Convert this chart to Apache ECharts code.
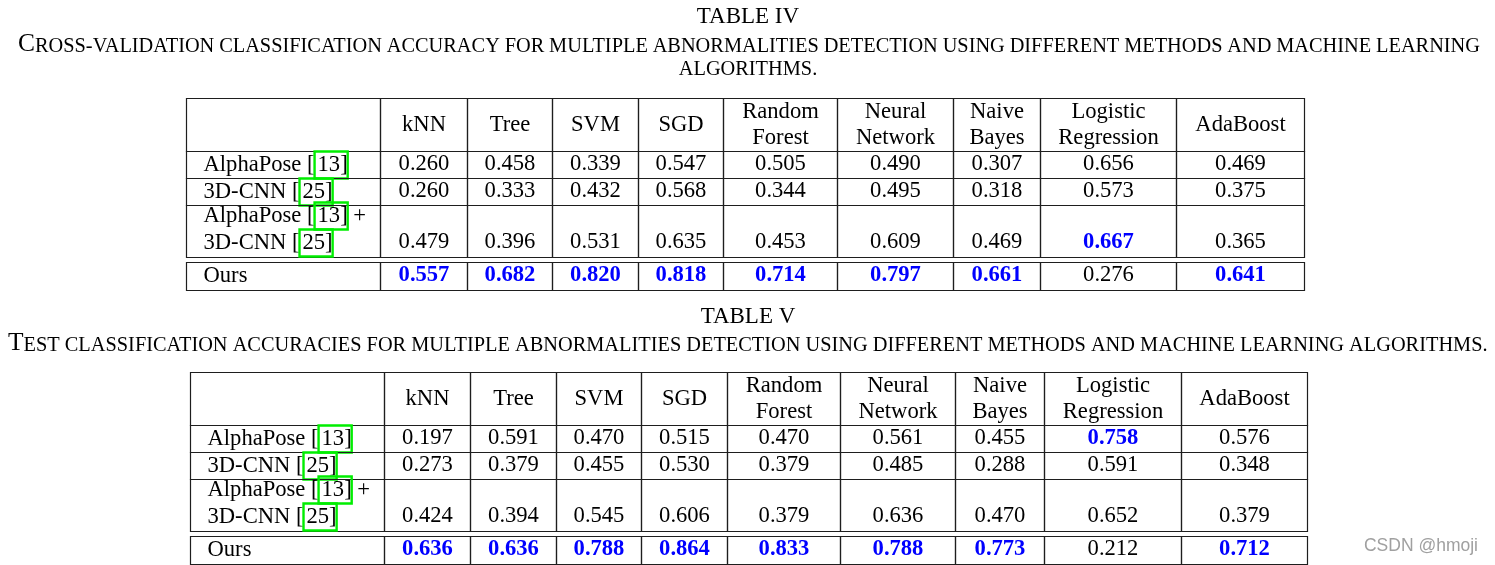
<!DOCTYPE html>
<html><head><meta charset="utf-8">
<script src="https://cdn.jsdelivr.net/npm/echarts@6/dist/echarts.min.js"></script>
<style>html,body{margin:0;padding:0;background:#fff}#c{width:1495px;height:565px}</style>
</head><body><div id="c"></div>
<script>
// ---------------- data ----------------
const methods = ['kNN', 'Tree', 'SVM', 'SGD', 'Random\nForest', 'Neural\nNetwork', 'Naive\nBayes', 'Logistic\nRegression', 'AdaBoost'];
const rowLabels = ['AlphaPose [13]', '3D-CNN [25]', 'AlphaPose [13] +\n3D-CNN [25]', 'Ours'];

const cvAlphaPose = [0.260, 0.458, 0.339, 0.547, 0.505, 0.490, 0.307, 0.656, 0.469];
const cv3DCNN     = [0.260, 0.333, 0.432, 0.568, 0.344, 0.495, 0.318, 0.573, 0.375];
const cvCombined  = [0.479, 0.396, 0.531, 0.635, 0.453, 0.609, 0.469, 0.667, 0.365];
const cvOurs      = [0.557, 0.682, 0.820, 0.818, 0.714, 0.797, 0.661, 0.276, 0.641];

const testAlphaPose = [0.197, 0.591, 0.470, 0.515, 0.470, 0.561, 0.455, 0.758, 0.576];
const test3DCNN     = [0.273, 0.379, 0.455, 0.530, 0.379, 0.485, 0.288, 0.591, 0.348];
const testCombined  = [0.424, 0.394, 0.545, 0.606, 0.379, 0.636, 0.470, 0.652, 0.379];
const testOurs      = [0.636, 0.636, 0.788, 0.864, 0.833, 0.788, 0.773, 0.212, 0.712];

const titleIV = 'TABLE IV';
const captionIV = 'CROSS-VALIDATION CLASSIFICATION ACCURACY FOR MULTIPLE ABNORMALITIES DETECTION USING DIFFERENT METHODS AND MACHINE LEARNING';
const captionIV2 = 'ALGORITHMS.';
const titleV = 'TABLE V';
const captionV = 'TEST CLASSIFICATION ACCURACIES FOR MULTIPLE ABNORMALITIES DETECTION USING DIFFERENT METHODS AND MACHINE LEARNING ALGORITHMS.';
const watermark = 'CSDN @hmoji';

// ---------------- layout ----------------
const colWidthsIV = [194, 87, 85, 86, 85, 114, 116, 87, 136, 128];
const colWidthsV  = [194, 86, 86, 85, 86, 113, 115, 89, 137, 126];
const rowHeights  = [53, 27, 27, 52, 5, 28]; // header, r1, r2, r3, gap, ours
const FONT = '"Liberation Serif", "Times New Roman", serif';
const FS = 22.6;

function cum(a) { const r = [0]; a.forEach(v => r.push(r[r.length - 1] + v)); return r; }
function sum(a) { return a.reduce((s, v) => s + v, 0); }
function refRich(s) { return s.replace(/\[(\d+)\]/g, '[{ref|$1]}'); }

function buildCells(colWidths, rows) {
  const xs = cum(colWidths), ys = cum(rowHeights);
  const cells = [];
  cells.push({ value: [xs[0], xs[1], ys[0], ys[1]], text: '', kind: 'corner' });
  methods.forEach((m, i) => cells.push({ value: [xs[i + 1], xs[i + 2], ys[0], ys[1]], text: m, kind: 'head' }));
  const rowIdx = [1, 2, 3, 5];
  const colMax = methods.map((_, c) => Math.max(...rows.map(r => r[c])));
  rows.forEach((vals, k) => {
    const ri = rowIdx[k];
    const two = rowLabels[k].indexOf('\n') >= 0;
    cells.push({ value: [xs[0], xs[1], ys[ri], ys[ri + 1]], text: refRich(rowLabels[k]), kind: 'label', two });
    vals.forEach((v, c) => cells.push({
      value: [xs[c + 1], xs[c + 2], ys[ri], ys[ri + 1]],
      text: v.toFixed(3), kind: 'num', two, bold: v === colMax[c]
    }));
  });
  return cells;
}

function makeRender(cells) {
  return function (params, api) {
    const cell = cells[params.dataIndex];
    const p0 = api.coord([api.value(0), api.value(2)]);
    const p1 = api.coord([api.value(1), api.value(3)]);
    const x0 = Math.round(p0[0]) + 0.5, y0 = Math.round(p0[1]) + 0.5;
    const x1 = Math.round(p1[0]) + 0.5, y1 = Math.round(p1[1]) + 0.5;
    const children = [{
      type: 'rect',
      shape: { x: x0, y: y0, width: x1 - x0, height: y1 - y0 },
      style: { fill: 'none', stroke: '#1e1e1e', lineWidth: 1.2 }
    }];
    if (cell.text) {
      let tx, ty, align = 'center';
      if (cell.kind === 'label') { tx = x0 + 17; align = 'left'; ty = (y0 + y1) / 2 - (cell.two ? 2 : 0); }
      else if (cell.kind === 'num' && cell.two) { tx = (x0 + x1) / 2; ty = y1 - 15; }
      else { tx = (x0 + x1) / 2; ty = (y0 + y1) / 2 - (cell.kind === 'num' ? 1 : 0); }
      children.push({
        type: 'text',
        style: {
          text: cell.text, x: tx, y: ty, align, verticalAlign: 'middle',
          fill: cell.bold ? '#0000ff' : '#000',
          font: (cell.bold ? 'bold ' : '') + FS + 'px ' + FONT,
          lineHeight: 26,
          rich: {
            ref: { fontSize: FS, fontFamily: FONT, fill: '#000', borderColor: '#00ee00', borderWidth: 2.4,
                   height: 25, padding: [1, 0, 1, 3], lineHeight: 27 }
          }
        }
      });
    }
    return { type: 'group', children };
  };
}

const cellsIV = buildCells(colWidthsIV, [cvAlphaPose, cv3DCNN, cvCombined, cvOurs]);
const cellsV = buildCells(colWidthsV, [testAlphaPose, test3DCNN, testCombined, testOurs]);

// -------- caption small caps with justification --------
const cvs = document.createElement('canvas').getContext('2d');
function tw(t, size) { cvs.font = size + 'px ' + FONT; return cvs.measureText(t).width; }
let BIG = 22, SM = 17.6;
function wordWidth(w, first) { return first ? tw(w[0], BIG) + tw(w.slice(1), SM) : tw(w, SM); }
function naturalWidth(text) {
  const ws = text.split(' ');
  return ws.reduce((s, w, i) => s + wordWidth(w, i === 0), 0) + (ws.length - 1) * tw(' ', SM);
}
const kfit = 1480 / naturalWidth(captionV);
BIG *= kfit; SM *= kfit;
function capRich(text) {
  const ws = text.split(' ');
  return ws.map((w, i) => (i === 0 ? '{big|' + w[0] + '}{sm|' + w.slice(1) + '}' : '{sm|' + w + '}')).join('{sp| }');
}
function capGap(text, target) {
  const ws = text.split(' ');
  const wsum = ws.reduce((s, w, i) => s + wordWidth(w, i === 0), 0);
  return (target - wsum) / (ws.length - 1);
}
function richFor(gap) {
  return {
    big: { fontSize: BIG, fontFamily: FONT, fill: '#000', verticalAlign: 'bottom' },
    sm: { fontSize: SM, fontFamily: FONT, fill: '#000', verticalAlign: 'bottom' },
    sp: { fontSize: SM, fontFamily: FONT, width: gap, verticalAlign: 'bottom' }
  };
}

const chart = echarts.init(document.getElementById('c'), null, { renderer: 'canvas' });
chart.setOption({
  backgroundColor: '#fff',
  animation: false,
  grid: [
    { left: 186, top: 98, width: sum(colWidthsIV), height: sum(rowHeights) },
    { left: 190, top: 372, width: sum(colWidthsV), height: sum(rowHeights) }
  ],
  xAxis: [
    { type: 'value', gridIndex: 0, min: 0, max: sum(colWidthsIV), show: false },
    { type: 'value', gridIndex: 1, min: 0, max: sum(colWidthsV), show: false }
  ],
  yAxis: [
    { type: 'value', gridIndex: 0, min: 0, max: sum(rowHeights), inverse: true, show: false },
    { type: 'value', gridIndex: 1, min: 0, max: sum(rowHeights), inverse: true, show: false }
  ],
  series: [
    { type: 'custom', xAxisIndex: 0, yAxisIndex: 0, renderItem: makeRender(cellsIV), data: cellsIV.map(c => c.value),
      encode: { x: [0, 1], y: [2, 3] }, clip: false, silent: true },
    { type: 'custom', xAxisIndex: 1, yAxisIndex: 1, renderItem: makeRender(cellsV), data: cellsV.map(c => c.value),
      encode: { x: [0, 1], y: [2, 3] }, clip: false, silent: true }
  ],
  graphic: [
    { type: 'text', x: 748, y: 17, style: { text: titleIV, font: '23px ' + FONT, fill: '#000', align: 'center', verticalAlign: 'middle' } },
    { type: 'text', x: 18, y: 44, style: { text: capRich(captionIV), rich: richFor(capGap(captionIV, 1462)), align: 'left', verticalAlign: 'middle' } },
    { type: 'text', x: 748, y: 70, style: { text: '{sm|' + captionIV2 + '}', rich: richFor(tw(' ', SM)), align: 'center', verticalAlign: 'middle' } },
    { type: 'text', x: 748, y: 317, style: { text: titleV, font: '23px ' + FONT, fill: '#000', align: 'center', verticalAlign: 'middle' } },
    { type: 'text', x: 8, y: 343, style: { text: capRich(captionV), rich: richFor(tw(' ', SM)), align: 'left', verticalAlign: 'middle' } },
    { type: 'text', x: 1478, y: 546, style: { text: watermark, font: '17.5px "Liberation Sans", Arial, sans-serif', fill: '#a0a0a0', align: 'right', verticalAlign: 'middle' } }
  ]
});
</script>
</body></html>
